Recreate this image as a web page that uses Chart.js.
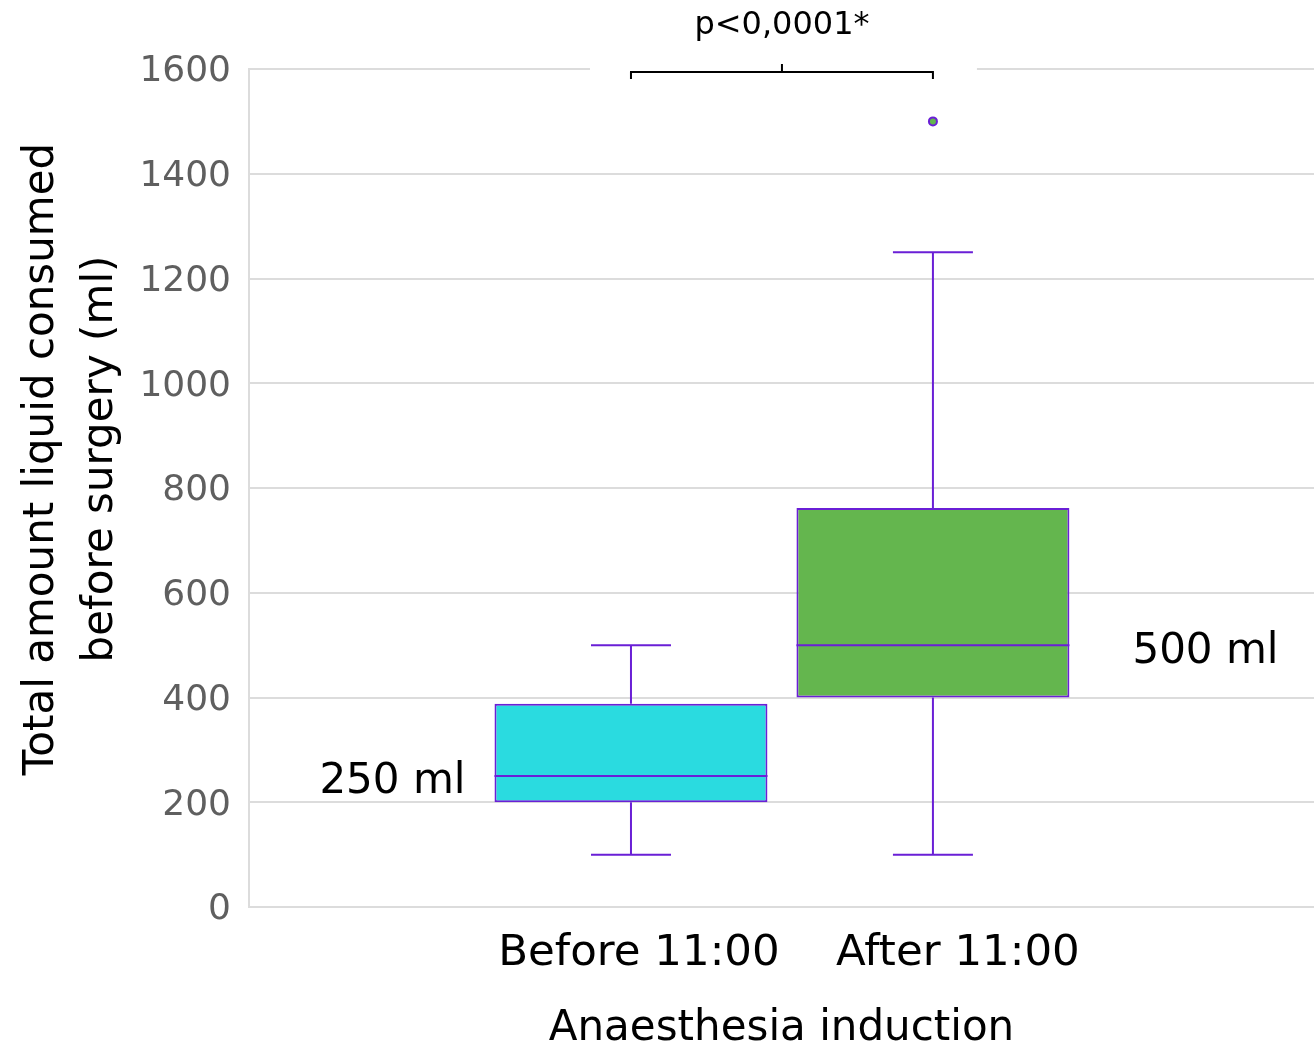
<!DOCTYPE html>
<html>
<head>
<meta charset="utf-8">
<script src="https://cdn.jsdelivr.net/npm/chart.js@4.4.0/dist/chart.umd.min.js"></script>
<style>
  html, body { margin: 0; padding: 0; background: #fff; }
</style>
</head>
<body>
<canvas id="chart" width="1314" height="1044"></canvas>
<script>
// Groups on the x axis
const groups = ['Before 11:00', 'After 11:00'];
const groupPos = [1, 2];

// Box plot values (ml)
const whiskerLow = [100, 100];
const q1 = [200, 400];
const median = [250, 500];
const q3 = [388, 762];
const whiskerHigh = [500, 1250];
const outliers = [[], [1500]];

// Texts
const medianLabels = ['250 ml', '500 ml'];
const yTicks = [0, 200, 400, 600, 800, 1000, 1200, 1400, 1600];
const yTitle = ['Total amount liquid consumed', 'before surgery (ml)'];
const pValue = 'p<0,0001*';

const PURPLE = '#6a1fd6';
const FONT = '"DejaVu Sans", Verdana, sans-serif';

// Whiskers, medians, labels, y title and the p-value bracket
const boxExtras = {
  id: 'boxExtras',
  afterDatasetsDraw(chart) {
    const ctx = chart.ctx;
    const x = chart.scales.x, y = chart.scales.y;
    const meta = chart.getDatasetMeta(0);
    ctx.save();
    ctx.strokeStyle = PURPLE;
    ctx.lineWidth = 2;
    meta.data.forEach((bar, i) => {
      const cx = bar.x;
      const half = bar.width / 2;
      const cap = 40;
      const yLo = y.getPixelForValue(whiskerLow[i]);
      const yQ1 = y.getPixelForValue(q1[i]);
      const yQ3 = y.getPixelForValue(q3[i]);
      const yHi = y.getPixelForValue(whiskerHigh[i]);
      const yMed = y.getPixelForValue(median[i]);
      ctx.beginPath();
      ctx.moveTo(cx, yQ1); ctx.lineTo(cx, yLo);
      ctx.moveTo(cx - cap, yLo); ctx.lineTo(cx + cap, yLo);
      ctx.moveTo(cx, yQ3); ctx.lineTo(cx, yHi);
      ctx.moveTo(cx - cap, yHi); ctx.lineTo(cx + cap, yHi);
      ctx.moveTo(cx - half, yMed); ctx.lineTo(cx + half, yMed);
      ctx.stroke();
    });

    // median labels
    ctx.fillStyle = '#000';
    ctx.font = '42px ' + FONT;
    ctx.textBaseline = 'middle';
    const b0 = meta.data[0], b1 = meta.data[1];
    ctx.textAlign = 'right';
    ctx.fillText(medianLabels[0], b0.x - b0.width / 2 - 29, y.getPixelForValue(median[0]) + 6);
    ctx.textAlign = 'left';
    ctx.fillText(medianLabels[1], b1.x + b1.width / 2 + 63, y.getPixelForValue(median[1]) + 7);

    // x category labels (sit a little right of the box centres)
    ctx.font = '43.5px ' + FONT;
    ctx.textAlign = 'center';
    const shift = [8, 25];
    groups.forEach((g, i) => {
      ctx.fillText(g, x.getPixelForValue(groupPos[i]) + shift[i], y.bottom + 47);
    });

    // y axis title
    ctx.font = '42px ' + FONT;
    ctx.save();
    ctx.translate(42, 459);
    ctx.rotate(-Math.PI / 2);
    ctx.textAlign = 'center';
    ctx.fillText(yTitle[0], 0, 0);
    ctx.fillText(yTitle[1], 0, 59);
    ctx.restore();

    // bracket
    const x0 = x.getPixelForValue(groupPos[0]);
    const x1 = x.getPixelForValue(groupPos[1]);
    const top = y.getPixelForValue(yTicks[yTicks.length - 1]);
    ctx.fillStyle = '#fff';
    ctx.fillRect(x0 - 41, top - 4, (x1 + 44) - (x0 - 41), 8);
    ctx.strokeStyle = '#000';
    ctx.lineWidth = 2;
    ctx.beginPath();
    ctx.moveTo(x0, top + 10); ctx.lineTo(x0, top + 3); ctx.lineTo(x1, top + 3); ctx.lineTo(x1, top + 10);
    ctx.moveTo((x0 + x1) / 2, top + 3); ctx.lineTo((x0 + x1) / 2, top - 5);
    ctx.stroke();
    ctx.fillStyle = '#000';
    ctx.font = '32px ' + FONT;
    ctx.textAlign = 'center';
    ctx.fillText(pValue, (x0 + x1) / 2, top - 43);
    ctx.restore();
  }
};

const boxData = groupPos.map((p, i) => ({ x: p, y: [q1[i], q3[i]] }));
const outlierData = [];
outliers.forEach((list, i) => list.forEach(v => outlierData.push({ x: groupPos[i], y: v })));

new Chart(document.getElementById('chart'), {
  type: 'bar',
  data: {
    datasets: [{
      data: boxData,
      backgroundColor: ['#2adbe0', '#64b64e'],
      borderColor: PURPLE,
      borderWidth: 2,
      borderSkipped: false,
      barPercentage: 0.904,
      categoryPercentage: 1
    }, {
      type: 'scatter',
      data: outlierData,
      pointRadius: 4,
      pointBackgroundColor: '#64b64e',
      pointBorderColor: PURPLE,
      pointBorderWidth: 2
    }]
  },
  options: {
    responsive: false,
    animation: false,
    layout: { autoPadding: false, padding: { top: 69, right: 0, left: 0, bottom: 0 } },
    plugins: { legend: { display: false }, tooltip: { enabled: false } },
    scales: {
      x: {
        type: 'linear',
        offset: false,
        min: -0.265,
        max: 3.262,
        afterBuildTicks: s => { s.ticks = groupPos.map(v => ({ value: v })); },
        afterFit: s => { s.height = 137; },
        grid: { display: false, drawTicks: false, offset: false },
        border: { display: false },
        ticks: { display: false },
        title: {
          display: true,
          text: 'Anaesthesia induction',
          color: '#000',
          font: { family: FONT, size: 42, lineHeight: 1 },
          padding: { top: 0, bottom: -6 }
        }
      },
      y: {
        min: 0,
        max: 1600,
        afterBuildTicks: s => { s.ticks = yTicks.map(v => ({ value: v })); },
        afterFit: s => { s.width = 249; },
        grid: { color: '#dcdcdc', lineWidth: 2, drawTicks: false },
        border: { display: true, color: '#dcdcdc', width: 2 },
        ticks: {
          callback: v => String(v),
          color: '#5f5f5f',
          font: { family: FONT, size: 36 },
          padding: 18,
          labelOffset: 3
        }
      }
    }
  },
  plugins: [boxExtras]
});
</script>
</body>
</html>
